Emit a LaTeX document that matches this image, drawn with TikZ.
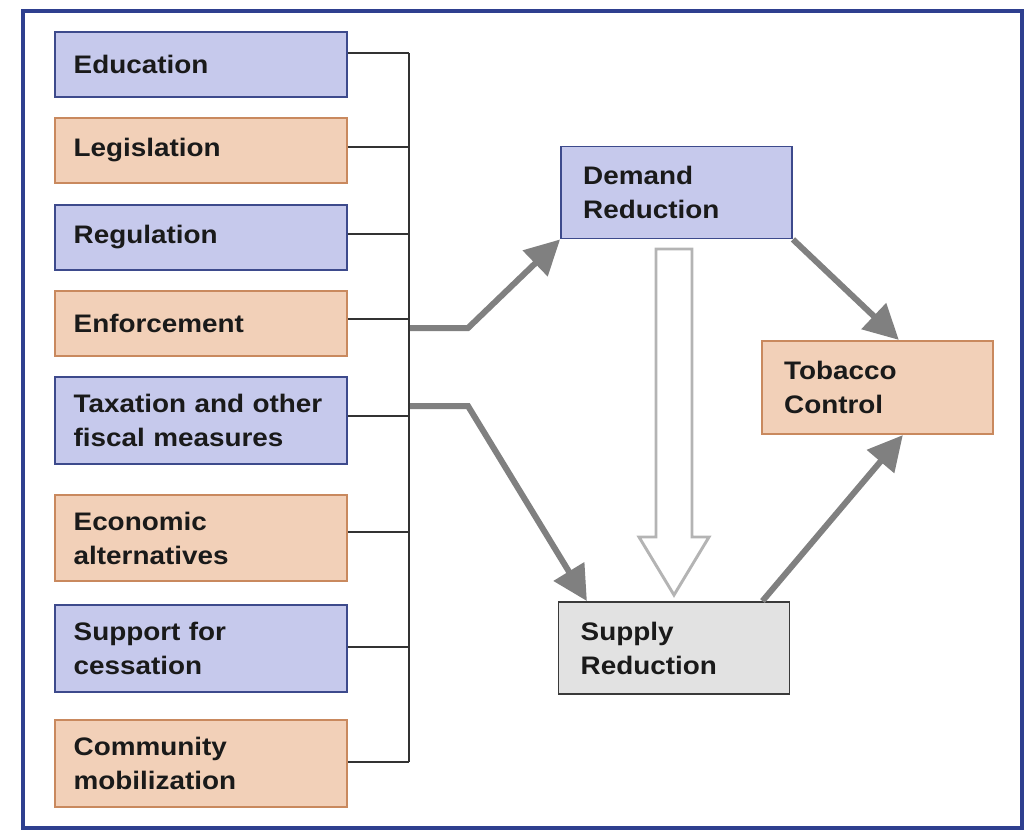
\documentclass[tikz,border=0pt]{standalone}
\usepackage{fontspec}
\setmainfont{Liberation Sans}[FakeStretch=1.1]
\usetikzlibrary{arrows.meta}
\definecolor{frameblue}{HTML}{2E3F8F}
\definecolor{bluefill}{HTML}{C6C9EC}
\definecolor{blueline}{HTML}{3D4A8C}
\definecolor{orfill}{HTML}{F2D0B8}
\definecolor{orline}{HTML}{C9895E}
\definecolor{grfill}{HTML}{E2E2E2}
\definecolor{grline}{HTML}{3A3A3A}
\definecolor{arrowgray}{HTML}{808080}
\definecolor{hollowgray}{HTML}{B4B4B4}
\definecolor{busgray}{HTML}{333333}
\definecolor{txt}{HTML}{1A1A1A}
\tikzset{
  lbl/.style={font=\bfseries\fontsize{19}{25.5}\selectfont, text=txt, align=left},
  lbox/.style={lbl, draw, line width=1.4pt, minimum width=219pt, minimum height=48.75pt,
    text width=191pt, inner xsep=14pt, inner ysep=0pt},
  tallbox/.style={lbox, minimum height=65pt},
  rbox/.style={lbl, draw, line width=1.4pt, minimum width=173.25pt, minimum height=69pt,
    text width=140pt, inner xsep=16.6pt, inner ysep=0pt},
  bluebox/.style={fill=bluefill, draw=blueline},
  orbox/.style={fill=orfill, draw=orline},
  graybox/.style={fill=grfill, draw=grline},
  bus/.style={draw=busgray, line width=1.1pt},
  bigarrow/.style={draw=arrowgray, line width=4.5pt, line join=miter,
    -{Triangle[length=26pt,width=26pt]}},
  hollow/.style={draw=hollowgray, line width=2.2pt, fill=white, line join=miter}
}
\begin{document}
\begin{tikzpicture}[x=0.75pt, y=-0.75pt]
\useasboundingbox (0,0) rectangle (1028,832);
\draw[frameblue, line width=2.6pt] (23,11) rectangle (1022,828);

% left boxes
\node[lbox, bluebox] (edu) at (201,64.5) {Education};
\node[lbox, orbox] (leg) at (201,150.5) {Legislation};
\node[lbox, bluebox] (reg) at (201,237.5) {Regulation};
\node[lbox, orbox] (enf) at (201,323.5) {Enforcement};
\node[tallbox, bluebox] (tax) at (201,420.5) {Taxation and other\\fiscal measures};
\node[tallbox, orbox] (eco) at (201,538) {Economic\\alternatives};
\node[tallbox, bluebox] (sup4c) at (201,648.5) {Support for\\cessation};
\node[tallbox, orbox] (com) at (201,763.5) {Community\\mobilization};

% right boxes
\node[rbox, bluebox] (dem) at (676.5,192.5) {Demand\\Reduction};
\node[rbox, orbox, minimum height=70pt] (tob) at (877.5,387.5) {Tobacco\\Control};
\node[rbox, graybox] (sup) at (674,648) {Supply\\Reduction};

% bus
\coordinate (b1) at (409,53);
\coordinate (b2) at (409,147);
\coordinate (b3) at (409,234);
\coordinate (b4) at (409,319);
\coordinate (b5) at (409,416);
\coordinate (b6) at (409,532);
\coordinate (b7) at (409,647);
\coordinate (b8) at (409,762);
\draw[bus] (b1) -- (b8);
\draw[bus] (edu.east |- b1) -- (b1);
\draw[bus] (leg.east |- b2) -- (b2);
\draw[bus] (reg.east |- b3) -- (b3);
\draw[bus] (enf.east |- b4) -- (b4);
\draw[bus] (tax.east |- b5) -- (b5);
\draw[bus] (eco.east |- b6) -- (b6);
\draw[bus] (sup4c.east |- b7) -- (b7);
\draw[bus] (com.east |- b8) -- (b8);

% thick arrows
\coordinate (a1) at (410,328);
\coordinate (k1) at (468,328);
\coordinate (a2) at (410,406);
\coordinate (k2) at (468,406);
\draw[bigarrow] (a1) -- (k1) -- (dem.south west);
\draw[bigarrow] (a2) -- (k2) -- ([xshift=22pt]sup.north west);
\draw[bigarrow] (dem.south east) -- ([xshift=16pt]tob.north);
\draw[bigarrow] ([xshift=-21pt]sup.north east) -- ([xshift=19pt]tob.south);

% hollow arrow
\draw[hollow] (656,249) -- (692,249) -- (692,537) -- (709,537) -- (674,595)
  -- (639,537) -- (656,537) -- cycle;
\end{tikzpicture}
\end{document}
